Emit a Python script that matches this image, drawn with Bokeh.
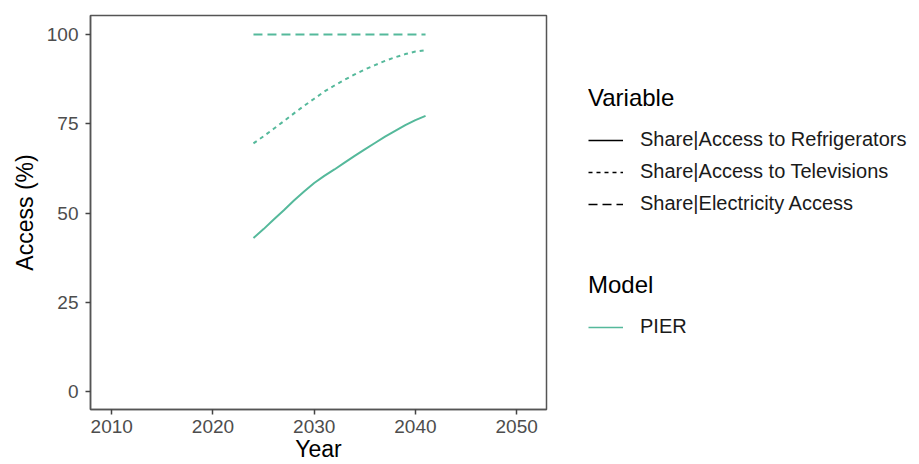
from bokeh.plotting import figure
from bokeh.layouts import row, column
from bokeh.models import Range1d, Legend, LegendItem, FixedTicker
from bokeh.embed import file_html
from bokeh.resources import INLINE

years = [2024, 2025, 2026, 2027, 2028, 2029, 2030, 2031, 2032, 2033, 2034, 2035, 2036, 2037, 2038, 2039, 2040, 2041]
refrigerators = [43.0, 45.5, 48.2, 50.8, 53.5, 56.0, 58.4, 60.4, 62.2, 64.1, 66.0, 67.8, 69.6, 71.4, 73.0, 74.6, 76.0, 77.2]
televisions = [69.5, 71.5, 73.6, 75.7, 77.9, 80.0, 82.0, 84.0, 85.7, 87.3, 88.8, 90.2, 91.4, 92.6, 93.6, 94.5, 95.2, 95.6]
electricity = [100, 100, 100, 100, 100, 100, 100, 100, 100, 100, 100, 100, 100, 100, 100, 100, 100, 100]
x_ticks = [2010, 2020, 2030, 2040, 2050]
y_ticks = [0, 25, 50, 75, 100]
variables = ["Share|Access to Refrigerators", "Share|Access to Televisions", "Share|Electricity Access"]
models = ["PIER"]
x_title = "Year"
y_title = "Access (%)"

COLOR = "#55B99B"
FONT = "Liberation Sans"
DASHES = ["solid", "4 4", "9 5"]
FRAME = "#555555"

p = figure(width=568, height=464, output_backend="svg", toolbar_location=None,
           x_range=Range1d(2007.9, 2052.95), y_range=Range1d(-5, 105.3),
           min_border_left=90, min_border_right=22, min_border_top=15, min_border_bottom=53)
p.xgrid.visible = False
p.ygrid.visible = False
p.outline_line_color = FRAME
p.outline_line_width = 1.5

series = [refrigerators, televisions, electricity]
for vals, dash in zip(series, DASHES):
    p.line(years, vals, line_color=COLOR, line_width=2, line_dash=dash)

for ax in (p.xaxis[0], p.yaxis[0]):
    ax.axis_line_color = FRAME
    ax.axis_line_width = 1.5
    ax.major_tick_line_color = "#444444"
    ax.major_tick_line_width = 1.5
    ax.major_tick_out = 5
    ax.major_tick_in = 0
    ax.minor_tick_out = 0
    ax.minor_tick_in = 0
    ax.major_label_text_font = FONT
    ax.major_label_text_font_size = "19px"
    ax.major_label_text_color = "#4D4D4D"
    ax.axis_label_text_font = FONT
    ax.axis_label_text_font_size = "23px"
    ax.axis_label_text_font_style = "normal"
    ax.axis_label_text_color = "#000000"

p.xaxis[0].ticker = FixedTicker(ticks=x_ticks)
p.yaxis[0].ticker = FixedTicker(ticks=y_ticks)
p.xaxis[0].axis_label = x_title
p.yaxis[0].axis_label = y_title
p.xaxis[0].major_label_standoff = 5
p.yaxis[0].major_label_standoff = 7
p.xaxis[0].axis_label_standoff = 0
p.yaxis[0].axis_label_standoff = 6


def legend_fig(height, top, title, names, colors, dashes):
    f = figure(width=351, height=height, output_backend="svg", toolbar_location=None,
               x_range=Range1d(0, 1), y_range=Range1d(0, 1),
               min_border_left=20, min_border_right=0, min_border_top=top, min_border_bottom=0)
    f.axis.visible = False
    f.grid.visible = False
    f.outline_line_color = None
    items = []
    for name, c, d in zip(names, colors, dashes):
        r = f.line([-10, -9], [-10, -10], line_color=c, line_width=1.6, line_dash=d)
        items.append(LegendItem(label=name, renderers=[r]))
    leg = Legend(items=items, title=title, location="top_left",
                 padding=0, margin=0, border_line_color=None, background_fill_alpha=0,
                 glyph_width=35, glyph_height=20, label_height=20, spacing=9,
                 label_standoff=17,
                 label_text_font=FONT, label_text_font_size="20px", label_text_color="#1A1A1A",
                 title_text_font=FONT, title_text_font_size="24px", title_text_font_style="normal",
                 title_text_color="#000000", title_standoff=16)
    f.add_layout(leg)
    return f


lv = legend_fig(230, 84, "Variable", variables, ["#000000"] * 3, DASHES)
lm = legend_fig(234, 41, "Model", models, [COLOR], ["solid"])

layout = row(p, column(lv, lm))
open("out.html", "w").write(file_html(layout, INLINE))
